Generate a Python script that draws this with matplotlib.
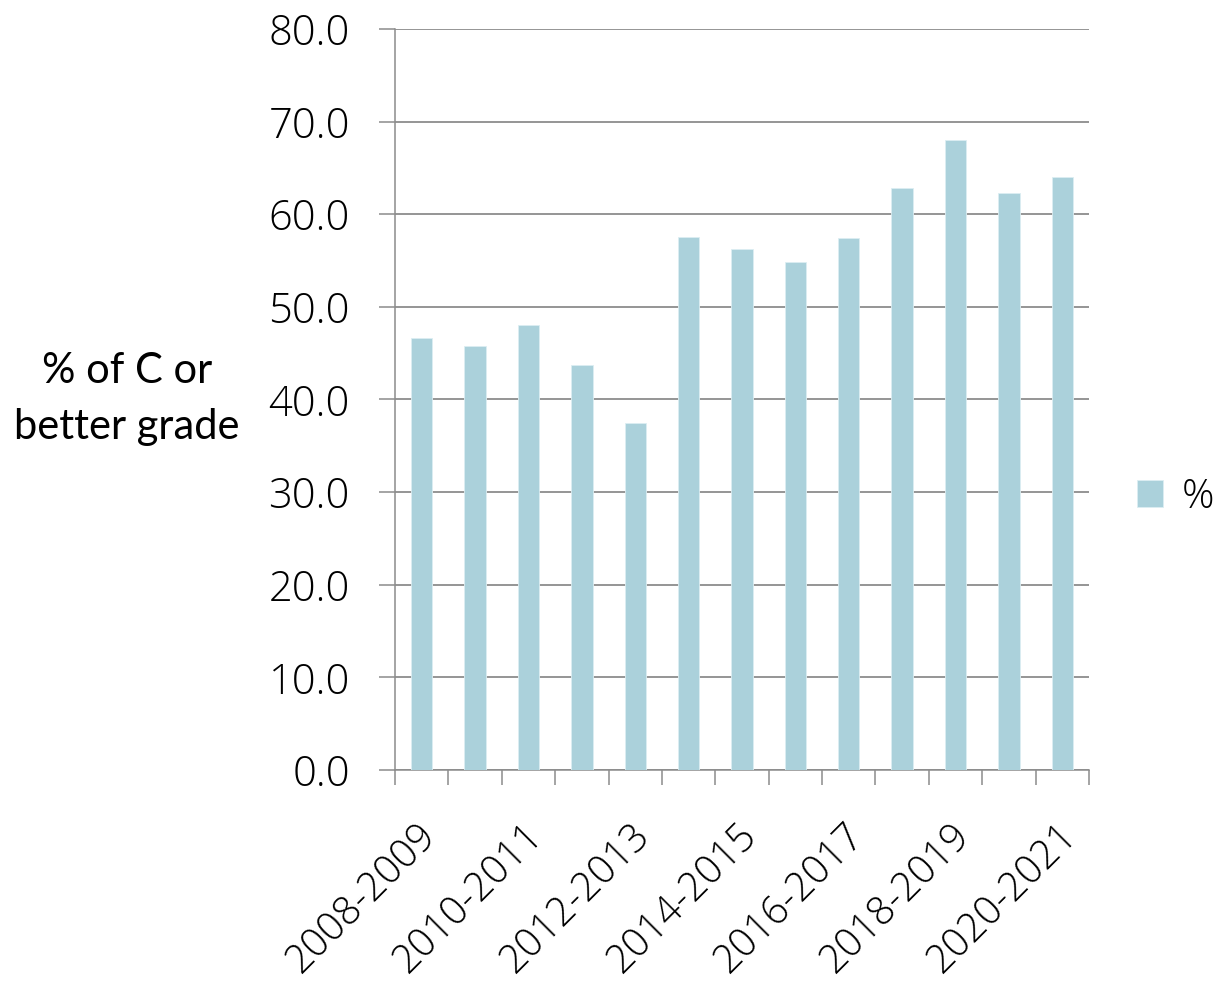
import matplotlib
matplotlib.use("Agg")
import matplotlib.pyplot as plt
from matplotlib import font_manager
import numpy as np

# School years and share of students earning a C or better
years = ["2008-2009", "2009-2010", "2010-2011", "2011-2012", "2012-2013",
         "2013-2014", "2014-2015", "2015-2016", "2016-2017", "2017-2018",
         "2018-2019", "2019-2020", "2020-2021"]
pct = [46.6, 45.8, 48.0, 43.7, 37.5, 57.5, 56.2, 54.8, 57.4, 62.8, 68.0, 62.3, 64.0]
y_ticks = [0, 10, 20, 30, 40, 50, 60, 70, 80]

bar_color = "#abd1db"
grid_color = "#8c8c8c"


def pick_light_font():
    """Return (family, weight) for a light sans face if one is installed."""
    have = {(f.name, f.weight) for f in font_manager.fontManager.ttflist}
    for fam in ["Open Sans", "Roboto", "Noto Sans", "Lato", "Inter"]:
        for w in [300, "light"]:
            if (fam, w) in have:
                return fam, 300
    return "Open Sans", "normal"


light_family, light_weight = pick_light_font()
tick_font = {"family": light_family, "weight": light_weight}

fig = plt.figure(figsize=(12.14, 9.83), dpi=100)
ax = fig.add_axes([0.3254, 0.2167, 0.897 - 0.3254, 0.9705 - 0.2167])

x = np.arange(len(years))
ax.bar(x, pct, width=0.4, color=bar_color, edgecolor="#dceef2", linewidth=0.6,
       label="%", zorder=3)

ax.set_xlim(-0.5, len(years) - 0.5)
ax.set_ylim(0, 80)

# y axis
ax.set_yticks(y_ticks)
ax.set_yticklabels([f"{v:.1f}" for v in y_ticks], fontsize=30, **tick_font)
ax.yaxis.grid(True, color=grid_color, linewidth=1.3, zorder=0)
ax.tick_params(axis="y", length=11.5, width=1.1, color=grid_color, pad=21)

# x axis: ticks sit between categories, labels on every other year
ax.set_xticks(np.arange(len(years) + 1) - 0.5)
ax.set_xticklabels([])
ax.tick_params(axis="x", length=10.8, width=1.1, color=grid_color)
for i in range(0, len(years), 2):
    ax.text(i - 0.1, -4.9, years[i], rotation=45, ha="right", va="top",
            rotation_mode="anchor", fontsize=28.5, clip_on=False, **tick_font)

for side in ["top", "right"]:
    ax.spines[side].set_visible(False)
for side in ["left", "bottom"]:
    ax.spines[side].set_color(grid_color)
    ax.spines[side].set_linewidth(1.1)

fig.text(127 / 1214, 1 - 399 / 983, "% of C or\nbetter grade", ha="center",
         va="center", fontsize=30, family="Lato", linespacing=1.55)

fig.legend(loc="center left", bbox_to_anchor=(1137 / 1214, 1 - 497 / 983),
           frameon=False, prop={"size": 29, **tick_font},
           handlelength=0.65, handleheight=0.65, handletextpad=0.45,
           borderpad=0, borderaxespad=0)

fig.savefig("out.png", dpi=100)
